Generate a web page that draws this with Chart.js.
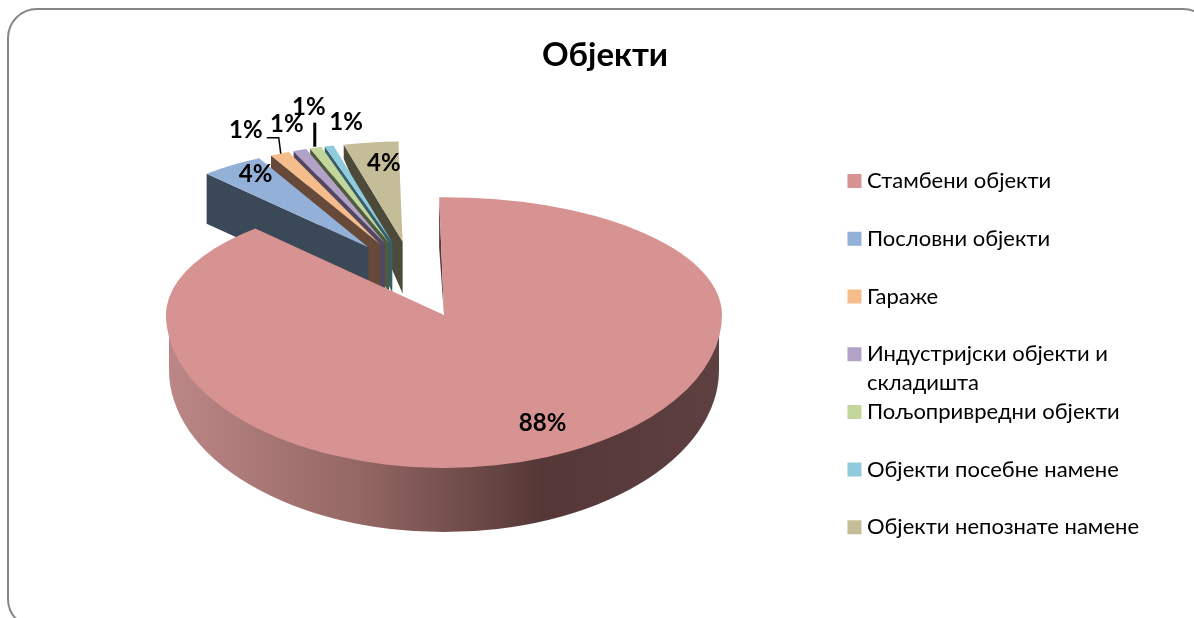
<!DOCTYPE html>
<html>
<head>
<meta charset="utf-8">
<title>Објекти</title>
<script src="https://cdn.jsdelivr.net/npm/chart.js@4"></script>
<style>
  html, body { margin: 0; padding: 0; background: #fff; overflow: hidden; width: 1194px; height: 618px; }
  #frame { position: absolute; left: 7px; top: 8px; width: 1202px; height: 617px; border: 2px solid #868686; border-radius: 30px; }
  #k8 { position: absolute; left: 0; top: 0; }
</style>
</head>
<body>
<div id="frame"></div>
<canvas id="k8" width="1194" height="618"></canvas>
<script>
var categories = ['Стамбени објекти', 'Пословни објекти', 'Гараже', 'Индустријски објекти и складишта',
    'Пољопривредни објекти', 'Објекти посебне намене', 'Објекти непознате намене'];
var shares = [88.4, 4.3, 1.3, 0.9, 0.8, 0.6, 3.7];
var topColors = ['#D79392', '#93B1D8', '#F6BD8C', '#B2A2C7', '#C3D69B', '#8FCBDC', '#C4BD97'];
var wallColors = ['#56393A', '#3A4858', '#67493A', '#524662', '#4F5C3B', '#35606B', '#4E4A3A'];
var wrappedLegend = { 'Индустријски објекти и складишта': ['Индустријски објекти и', 'складишта'] };

// small slices sit further back, so they get their own centre and radius
var frontPie = { x: 444, y: 315, kTop: 0.424, kBottom: 0.55 };
var backPie = { x: 413, y: 274, k: 0.42, radius: 238, push: 78 };
var wallOuter = [0, 50, 14, 14, 14, 14, 14];
var wallApex = [0, 50, 50, 50, 50, 50, 52];
var labelNudge = [[-5, -34], [24, 9], [-34, -23], [-13, -26], [-7, -40], [17, -24], [13, 21]];

function sliceEdge(arc, angle) {
    var mid = (arc.startAngle + arc.endAngle) / 2;
    var ax = backPie.x + Math.cos(mid) * backPie.push;
    var ay = backPie.y + Math.sin(mid) * backPie.push * backPie.k;
    return {
        ax: ax, ay: ay,
        ox: ax + Math.cos(angle) * backPie.radius,
        oy: ay + Math.sin(angle) * backPie.radius * backPie.k
    };
}

function polygon(ctx, pts, fill) {
    ctx.beginPath();
    pts.forEach(function (p, i) { i ? ctx.lineTo(p[0], p[1]) : ctx.moveTo(p[0], p[1]); });
    ctx.closePath();
    ctx.fillStyle = fill;
    ctx.fill();
}

function leader(ctx, pts, width) {
    ctx.beginPath();
    pts.forEach(function (p, i) { i ? ctx.lineTo(p[0], p[1]) : ctx.moveTo(p[0], p[1]); });
    ctx.lineWidth = width;
    ctx.strokeStyle = '#000';
    ctx.stroke();
}

function legendTextX(legend, box) {
    return box.left + legend.options.labels.boxWidth + legend.options.labels.font.size / 2;
}

var pie3d = {
    id: 'pie3d',
    afterDatasetsUpdate: function (chart) {
        chart.getDatasetMeta(0).data.forEach(function (arc, i) {
            if (i > 0) arc.outerRadius = backPie.radius;
        });
    },
    beforeDatasetsDraw: function (chart) {
        var ctx = chart.ctx;
        var arcs = chart.getDatasetMeta(0).data;

        // back slices, right to left so the nearer ones cover the walls behind them
        for (var i = arcs.length - 1; i > 0; i--) {
            var arc = arcs[i];
            var e = sliceEdge(arc, arc.startAngle);
            polygon(ctx, [[e.ax, e.ay], [e.ox, e.oy], [e.ox, e.oy + wallOuter[i]], [e.ax, e.ay + wallApex[i]]], wallColors[i]);
            // pushed out by hand, the arc's own offset option also narrows the slice
            ctx.save();
            ctx.translate(e.ax, e.ay);
            ctx.scale(1, backPie.k);
            ctx.translate(-arc.x, -arc.y);
            arc.draw(ctx);
            ctx.restore();
        }

        // big slice: rim, sliver of the cut edge, then the face
        var main = arcs[0];
        var r = main.outerRadius;
        var grad = ctx.createLinearGradient(frontPie.x - r, 0, frontPie.x + r, 0);
        grad.addColorStop(0, '#BC8787');
        grad.addColorStop(0.35, '#946764');
        grad.addColorStop(0.68, '#543736');
        grad.addColorStop(1, '#5E4040');
        ctx.beginPath();
        ctx.moveTo(frontPie.x - r + 3, frontPie.y);
        ctx.lineTo(frontPie.x - r + 3, frontPie.y + 55);
        ctx.ellipse(frontPie.x, frontPie.y + 55, r - 3, 162, 0, Math.PI, 0, true);
        ctx.lineTo(frontPie.x + r - 3, frontPie.y);
        ctx.closePath();
        ctx.fillStyle = grad;
        ctx.fill();

        var sx = frontPie.x + Math.cos(main.startAngle) * r;
        var sy = frontPie.y + Math.sin(main.startAngle) * r * frontPie.kTop;
        polygon(ctx, [[sx, sy], [sx, sy + 50], [frontPie.x, frontPie.y]], wallColors[0]);

        [[0, frontPie.y + 0.5, frontPie.kTop], [frontPie.y, 618, frontPie.kBottom]].forEach(function (part) {
            ctx.save();
            ctx.beginPath();
            ctx.rect(0, part[0], chart.width, part[1] - part[0]);
            ctx.clip();
            ctx.translate(frontPie.x, frontPie.y);
            ctx.scale(1, part[2]);
            ctx.translate(-main.x, -main.y);
            main.draw(ctx);
            ctx.restore();
        });
        return false;
    },
    afterDraw: function (chart) {
        var ctx = chart.ctx;
        var arcs = chart.getDatasetMeta(0).data;
        var total = shares.reduce(function (a, b) { return a + b; }, 0);

        var anchors = arcs.map(function (arc, i) {
            var mid = (arc.startAngle + arc.endAngle) / 2;
            if (i === 0) {
                return [frontPie.x + Math.cos(mid) * arc.outerRadius,
                    frontPie.y + Math.sin(mid) * arc.outerRadius * frontPie.kBottom];
            }
            var e = sliceEdge(arc, mid);
            return [e.ox, e.oy];
        });

        // leader lines for the two labels that sit off their slices
        var a = anchors[2];
        leader(ctx, [[a[0] + 1, a[1]], [a[0] - 1, a[1] - 16], [a[0] - 13, a[1] - 16]], 1.5);
        var g = anchors[4];
        leader(ctx, [[g[0] - 1, g[1] - 1], [g[0] - 1, g[1] - 25]], 3);

        ctx.save();
        ctx.font = 'bold 24px Lato';
        ctx.fillStyle = '#000';
        ctx.textAlign = 'center';
        ctx.textBaseline = 'middle';
        shares.forEach(function (v, i) {
            ctx.fillText(Math.round(v / total * 100) + '%', anchors[i][0] + labelNudge[i][0], anchors[i][1] + labelNudge[i][1]);
        });
        ctx.restore();

        // second line of the wrapped legend entry
        var legend = chart.legend;
        legend.legendItems.forEach(function (item, i) {
            var lines = wrappedLegend[categories[i]];
            if (!lines) return;
            var box = legend.legendHitBoxes[i];
            ctx.save();
            ctx.font = legend.options.labels.font.size + 'px Lato';
            ctx.fillStyle = '#000';
            ctx.textBaseline = 'middle';
            ctx.fillText(lines[1], legendTextX(legend, box), box.top + box.height / 2 + 29);
            ctx.restore();
        });
    }
};

new Chart(document.getElementById('k8').getContext('2d'), {
    type: 'pie',
    data: {
        labels: categories,
        datasets: [{
            data: shares,
            backgroundColor: topColors,
            borderWidth: 0
        }]
    },
    options: {
        responsive: false,
        animation: false,
        radius: 278,
        rotation: -1,
        layout: { padding: { left: 61, right: 45, top: 0, bottom: 44 } },
        plugins: {
            title: {
                display: true,
                text: 'Објекти',
                color: '#000',
                font: { family: 'Lato', size: 33, weight: 'bold' },
                padding: { top: 36, bottom: 6 }
            },
            legend: {
                position: 'right',
                align: 'end',
                labels: {
                    font: { family: 'Lato', size: 22 },
                    color: '#000',
                    usePointStyle: true,
                    pointStyle: 'rect',
                    boxWidth: 3,
                    boxHeight: 14,
                    padding: 35.7,
                    generateLabels: function (chart) {
                        return Chart.overrides.pie.plugins.legend.labels.generateLabels(chart).map(function (item) {
                            var lines = wrappedLegend[item.text];
                            if (lines) item.text = lines[0];
                            return item;
                        });
                    }
                }
            },
            tooltip: { enabled: false }
        }
    },
    plugins: [pie3d]
});
</script>
</body>
</html>
